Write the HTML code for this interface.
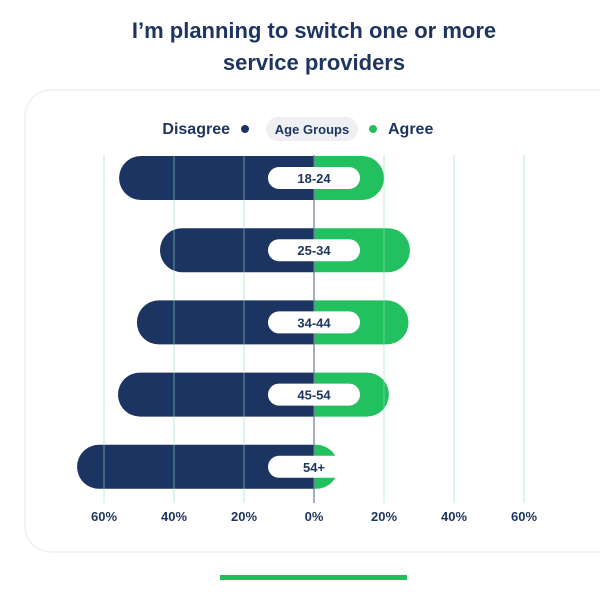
<!DOCTYPE html>
<html><head><meta charset="utf-8"><style>
body{margin:0;background:#fff;font-family:"Liberation Sans",sans-serif;}
#wrap{position:relative;width:600px;height:597px;overflow:hidden;}
</style></head><body>
<div id="wrap">
<svg id="svg" width="600" height="597" xmlns="http://www.w3.org/2000/svg">
<rect x="25" y="90" width="600" height="462" rx="26" fill="#fff" stroke="#eef0f3" stroke-width="1.5"/>
<text x="314" y="38" text-anchor="middle" font-size="22" font-weight="bold" fill="#1d355f">I’m planning to switch one or more</text>
<text x="314" y="70" text-anchor="middle" font-size="22" font-weight="bold" fill="#1d355f">service providers</text>
<g>
<text x="230" y="134" text-anchor="end" font-size="16" font-weight="bold" fill="#1d355f">Disagree</text>
<circle cx="245" cy="129" r="4" fill="#1b3461"/>
<rect x="266" y="117" width="92" height="24" rx="12" fill="#eef0f3"/>
<text x="312" y="134" text-anchor="middle" font-size="13" font-weight="bold" fill="#1d355f">Age Groups</text>
<circle cx="373" cy="129" r="4" fill="#22c05f"/>
<text x="388" y="134" font-size="16" font-weight="bold" fill="#1d355f">Agree</text>
</g>
<g id="bars"></g>
<g id="grid"></g>
<g id="labels"></g>
<rect x="220" y="575" width="187" height="5" fill="#1fbf5c"/>
</svg>
</div>
<script>
const categories=["18-24","25-34","34-44","45-54","54+"];
const disagree=[55.7,44,50.6,56,67.7];
const agree=[20,27.4,27,21.4,6.9];
const ticks=[-60,-40,-20,0,20,40,60];
const tickLabels=["60%","40%","20%","0%","20%","40%","60%"];
const NS="http://www.w3.org/2000/svg";
const cx=314,ppu=70/20;
const x=v=>cx+v*ppu;
const yc=i=>178+i*72.2;
const H=44;
function mk(t,a,p){const e=document.createElementNS(NS,t);for(const k in a)e.setAttribute(k,a[k]);p.appendChild(e);return e;}
const bars=document.getElementById('bars'),grid=document.getElementById('grid'),labels=document.getElementById('labels');
categories.forEach((c,i)=>{
  const y=yc(i)-H/2,r=H/2;
  const xl=x(-disagree[i]),xr=x(agree[i]);
  const d=mk('path',{d:`M${cx},${y} H${xl+r} A${r},${r} 0 0 0 ${xl+r},${y+H} H${cx} Z`,fill:'#1b3461'},bars);
  
  
  const ar=Math.min(r,xr-cx);
  const g=mk('path',{d:`M${cx},${y} H${xr-ar} A${ar},${r} 0 0 1 ${xr-ar},${y+H} H${cx} Z`,fill:'#22c05f'},bars);
  
  
});
ticks.forEach((t,i)=>{
  const l=mk('line',{x1:x(t),x2:x(t),y1:155,y2:503,stroke:t===0?'#6b7a99':'#8fe0b5','stroke-width':t===0?1.2:1,'stroke-opacity':t===0?1:0.6},grid);
  
  
  const tx=mk('text',{x:x(t),y:521,'text-anchor':'middle','font-size':13,'font-weight':'bold',fill:'#1d355f'},labels);
  tx.textContent=tickLabels[i];
  
  
});
categories.forEach((c,i)=>{
  const p=mk('rect',{x:268,y:yc(i)-11,width:92,height:22,rx:11,fill:'#fff'},labels);
  
  
  const t=mk('text',{x:314,y:yc(i)+5,'text-anchor':'middle','font-size':13,'font-weight':'bold',fill:'#1d355f'},labels);
  t.textContent=c;
  
  
});
</script>
</body></html>
